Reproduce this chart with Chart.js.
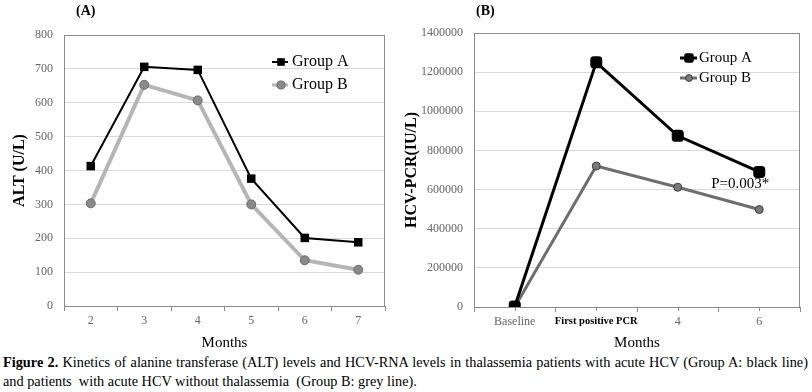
<!DOCTYPE html>
<html>
<head>
<meta charset="utf-8">
<script src="https://cdn.jsdelivr.net/npm/chart.js@4"></script>
<style>
  body { margin: 0; background: #fff; font-family: "Liberation Serif", serif; }
  #page { position: relative; width: 812px; height: 392px; overflow: hidden; }
  .panel { position: absolute; top: 0; }
  .tag { position: absolute; top: 3px; font-weight: bold; font-size: 14px; }
  .cap { position: absolute; left: 3px; width: 805px; font-size: 14.3px; line-height: 16px; white-space: pre; }
  #cap1 { top: 354px; text-align: justify; text-align-last: justify; white-space: nowrap; }
  #cap2 { top: 373px; }
</style>
</head>
<body>
<div id="page">
  <div class="panel" style="left:0"><canvas id="altChart" width="400" height="352"></canvas></div>
  <div class="panel" style="left:400px"><canvas id="pcrChart" width="412" height="352"></canvas></div>
  <div class="tag" style="left:76px">(A)</div>
  <div class="tag" style="left:476px">(B)</div>
  <div class="cap" id="cap1"><b>Figure 2.</b> Kinetics of alanine transferase (ALT) levels and HCV-RNA levels in thalassemia patients with acute HCV (Group A: black line)</div>
  <div class="cap" id="cap2">and patients  with acute HCV without thalassemia  (Group B: grey line).</div>
</div>
<script>
// ALT chart data (panel A)
const altMonths = ['2', '3', '4', '5', '6', '7'];
const altGroupA = [413, 706, 697, 376, 201, 188];
const altGroupB = [303, 653, 607, 300, 135, 107];

// HCV-PCR chart data (panel B)
const pcrLabels = ['Baseline', 'First positive PCR', '4', '6'];
const pcrGroupA = [3000, 1250000, 875000, 690000];
const pcrGroupB = [0, 720000, 612000, 498000];

Chart.defaults.font.family = '"Liberation Serif", "Times New Roman", serif';
Chart.defaults.color = '#666';

// draw a marker like the dataset uses
function drawMarker(ctx, ds, x, y) {
    const r = ds.pointRadius;
    ctx.save();
    ctx.fillStyle = ds.pointBackgroundColor;
    ctx.strokeStyle = ds.pointBorderColor;
    ctx.lineWidth = ds.pointBorderWidth;
    ctx.beginPath();
    if (ds.pointStyle === 'rect') {
        const s = Math.SQRT1_2 * r;
        ctx.rect(x - s, y - s, 2 * s, 2 * s);
    } else if (ds.pointStyle === 'rectRounded') {
        const s = r * 0.8;
        ctx.roundRect(x - s, y - s, 2 * s, 2 * s, r * 0.4);
    } else {
        ctx.arc(x, y, r, 0, Math.PI * 2);
    }
    ctx.fill();
    if (ds.pointBorderWidth) ctx.stroke();
    ctx.restore();
}

// legend placed inside the plot area
const insideLegend = {
    id: 'insideLegend',
    afterDraw(chart, args, opts) {
        const ctx = chart.ctx;
        chart.data.datasets.forEach((ds, i) => {
            const y = opts.y + i * opts.gap;
            ctx.save();
            ctx.strokeStyle = ds.borderColor;
            ctx.lineWidth = Math.min(ds.borderWidth, 3);
            ctx.beginPath();
            ctx.moveTo(opts.x, y);
            ctx.lineTo(opts.x + opts.lineLen, y);
            ctx.stroke();
            ctx.restore();
            drawMarker(ctx, Object.assign({}, ds, { pointRadius: ds.pointRadius * opts.scale }), opts.x + opts.markerAt, y);
            ctx.save();
            ctx.fillStyle = '#000';
            ctx.font = opts.fontSize + 'px "Liberation Serif", serif';
            ctx.textBaseline = 'middle';
            ctx.fillText(ds.label, opts.x + opts.textAt, y);
            ctx.restore();
        });
    }
};

// grey frame around the plot area
const plotFrame = {
    id: 'plotFrame',
    beforeDatasetsDraw(chart) {
        const a = chart.chartArea;
        const ctx = chart.ctx;
        ctx.save();
        ctx.strokeStyle = '#8c8c8c';
        ctx.lineWidth = 1;
        ctx.strokeRect(a.left + 0.5, a.top + 0.5, a.right - a.left - 1, a.bottom - a.top);
        ctx.restore();
    }
};

// extra tick marks under each category of panel B
const centerTicks = {
    id: 'centerTicks',
    beforeDatasetsDraw(chart) {
        const xs = chart.scales.x;
        const ctx = chart.ctx;
        const y = chart.chartArea.bottom;
        ctx.save();
        ctx.strokeStyle = '#8c8c8c';
        ctx.lineWidth = 1;
        pcrLabels.forEach((l, i) => {
            const x = Math.round(xs.getPixelForValue(i)) + 0.5;
            ctx.beginPath();
            ctx.moveTo(x, y);
            ctx.lineTo(x, y + 4);
            ctx.stroke();
        });
        ctx.restore();
    }
};

// p-value note on panel B
const pNote = {
    id: 'pNote',
    afterDatasetsDraw(chart) {
        const x = chart.scales.x.getPixelForValue(3) - 19;
        const y = chart.scales.y.getPixelForValue(630000);
        const ctx = chart.ctx;
        ctx.save();
        ctx.fillStyle = '#000';
        ctx.font = '15px "Liberation Serif", serif';
        ctx.textAlign = 'center';
        ctx.textBaseline = 'middle';
        ctx.fillText('P=0.003*', x, y);
        ctx.restore();
    }
};

function xAxis(labels, height, tickFont, tickColor) {
    return {
        type: 'category',
        labels: labels,
        offset: true,
        border: { display: false },
        grid: { drawOnChartArea: false, drawTicks: true, tickLength: 5, color: '#8c8c8c', offset: true },
        ticks: { padding: 3, font: tickFont, color: tickColor, maxRotation: 0, autoSkip: false },
        title: { display: true, text: 'Months', color: '#000', font: { size: 15 }, padding: { top: 0, bottom: 0 } },
        afterFit(scale) { scale.height = height; }
    };
}

function yAxis(max, step, title, width, titlePad) {
    return {
        min: 0,
        max: max,
        border: { display: false },
        grid: { color: '#d9d9d9', drawTicks: false },
        ticks: { stepSize: step, padding: 11, font: { size: 12 }, color: '#666', callback: v => String(v) },
        title: { display: true, text: title, color: '#000', font: { size: 16, weight: 'bold' }, padding: { top: titlePad, bottom: 0 } },
        afterFit(scale) { scale.width = width; }
    };
}

new Chart(document.getElementById('altChart'), {
    type: 'line',
    data: {
        labels: altMonths,
        datasets: [
            {
                label: 'Group A',
                data: altGroupA,
                borderColor: '#000',
                borderWidth: 2,
                pointStyle: 'rect',
                pointRadius: 6,
                pointBackgroundColor: '#000',
                pointBorderColor: '#000',
                pointBorderWidth: 0
            },
            {
                label: 'Group B',
                data: altGroupB,
                borderColor: '#b5b5b5',
                borderWidth: 4,
                pointStyle: 'circle',
                pointRadius: 4.5,
                pointBackgroundColor: '#8a8a8a',
                pointBorderColor: '#6a6a6a',
                pointBorderWidth: 1
            }
        ]
    },
    options: {
        responsive: false,
        animation: false,
        events: [],
        layout: { padding: { top: 35, right: 15, left: 0, bottom: 0 } },
        plugins: {
            legend: { display: false },
            tooltip: { enabled: false },
            insideLegend: { x: 272, y: 62, gap: 23, lineLen: 16, markerAt: 9, textAt: 20, fontSize: 16, scale: 0.9 }
        },
        scales: {
            x: xAxis(altMonths, 46, { size: 12 }, '#666'),
            y: yAxis(800, 100, 'ALT (U/L)', 64, 10)
        }
    },
    plugins: [plotFrame, insideLegend]
});

new Chart(document.getElementById('pcrChart'), {
    type: 'line',
    data: {
        labels: pcrLabels,
        datasets: [
            {
                label: 'Group A',
                data: pcrGroupA,
                borderColor: '#000',
                borderWidth: 3,
                pointStyle: 'rectRounded',
                pointRadius: 7,
                pointBackgroundColor: '#000',
                pointBorderColor: '#000',
                pointBorderWidth: 0
            },
            {
                label: 'Group B',
                data: pcrGroupB,
                borderColor: '#6e6e6e',
                borderWidth: 3,
                pointStyle: 'circle',
                pointRadius: 4,
                pointBackgroundColor: '#7a7a7a',
                pointBorderColor: '#3c3c3c',
                pointBorderWidth: 1
            }
        ]
    },
    options: {
        responsive: false,
        animation: false,
        events: [],
        layout: { padding: { top: 33, right: 12, left: 0, bottom: 0 } },
        plugins: {
            legend: { display: false },
            tooltip: { enabled: false },
            insideLegend: { x: 280, y: 58, gap: 20, lineLen: 17, markerAt: 9, textAt: 19, fontSize: 15, scale: 0.85 }
        },
        scales: {
            x: xAxis(pcrLabels, 45,
                ctx => ctx.index === 1 ? { size: 10.5, weight: 'bold' } : { size: 12 },
                ctx => ctx.index === 1 ? '#000' : '#666'),
            y: yAxis(1400000, 200000, 'HCV-PCR(IU/L)', 74, 2)
        }
    },
    plugins: [plotFrame, centerTicks, insideLegend, pNote]
});
</script>
</body>
</html>
